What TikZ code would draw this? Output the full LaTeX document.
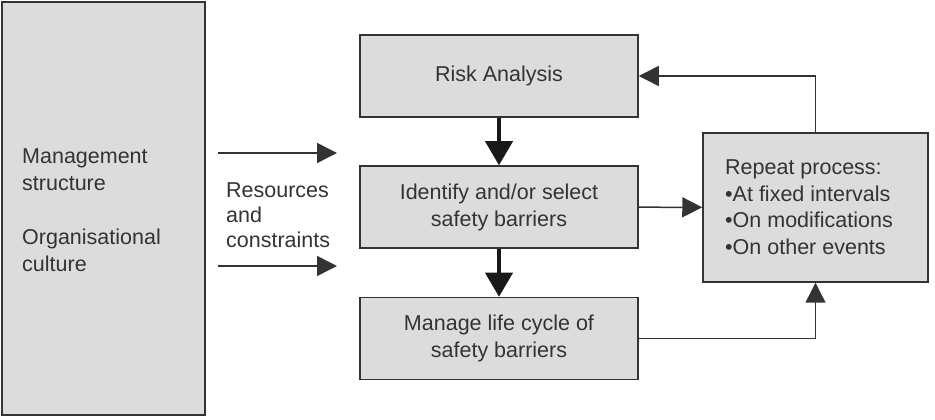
\documentclass[tikz,border=0pt]{standalone}
\usepackage{fontspec}
\setmainfont{Liberation Sans}
\usetikzlibrary{arrows.meta}
\definecolor{boxfill}{HTML}{DCDCDC}
\definecolor{edge}{HTML}{333333}
\definecolor{txt}{HTML}{333333}
\begin{document}
\begin{tikzpicture}[x=1pt,y=1pt,
  box/.style={draw=edge,line width=1.5pt,fill=boxfill,minimum width=278pt,minimum height=82pt,inner sep=0pt,text=txt,align=center,font=\fontsize{21.5}{27}\selectfont},
  lbl/.style={inner sep=0pt,text=txt,align=left,font=\fontsize{21.5}{27}\selectfont},
  thin/.style={draw=edge,line width=1.5pt,-{Triangle[length=20pt,width=20pt]}},
  thick/.style={draw=black!90,line width=4pt,-{Triangle[length=24pt,width=27pt]}}
]
\useasboundingbox (0,0) rectangle (935,420);
\node[box,minimum width=203pt,minimum height=413pt] (left) at (103.5,211.5) {};
\node[lbl,anchor=west] (ltext) at (22,210) {Management\\structure\\[27pt]Organisational\\culture};
\node[box] (risk) at (499,344) {Risk Analysis};
\node[box] (iden) at (499,213) {Identify and/or select\\safety barriers};
\node[box] (man) at (499,81.5) {Manage life cycle of\\safety barriers};
\node[box,minimum width=225pt,minimum height=149pt] (rep) at (815.5,212.5) {};
\node[lbl,anchor=west,font=\fontsize{21.5}{26.5}\selectfont] (reptext) at (725,213) {Repeat process:\\•At fixed intervals\\•On modifications\\•On other events};
\node[lbl,anchor=west,font=\fontsize{21.5}{25}\selectfont] (res) at (226,205) {Resources\\and\\constraints};
\coordinate (a1s) at (218,267);
\coordinate (a1e) at (337,267);
\coordinate (a2s) at (218,154);
\coordinate (a2e) at (337,154);
\draw[thin] (a1s) -- (a1e);
\draw[thin] (a2s) -- (a2e);
\draw[thick] (risk) -- (iden);
\draw[thick] (iden) -- (man);
\draw[thin] (iden) -- (rep);
\draw[thin] (man.east) -| (rep.south);
\draw[thin] (rep.north) |- (risk.east);
\end{tikzpicture}
\end{document}
